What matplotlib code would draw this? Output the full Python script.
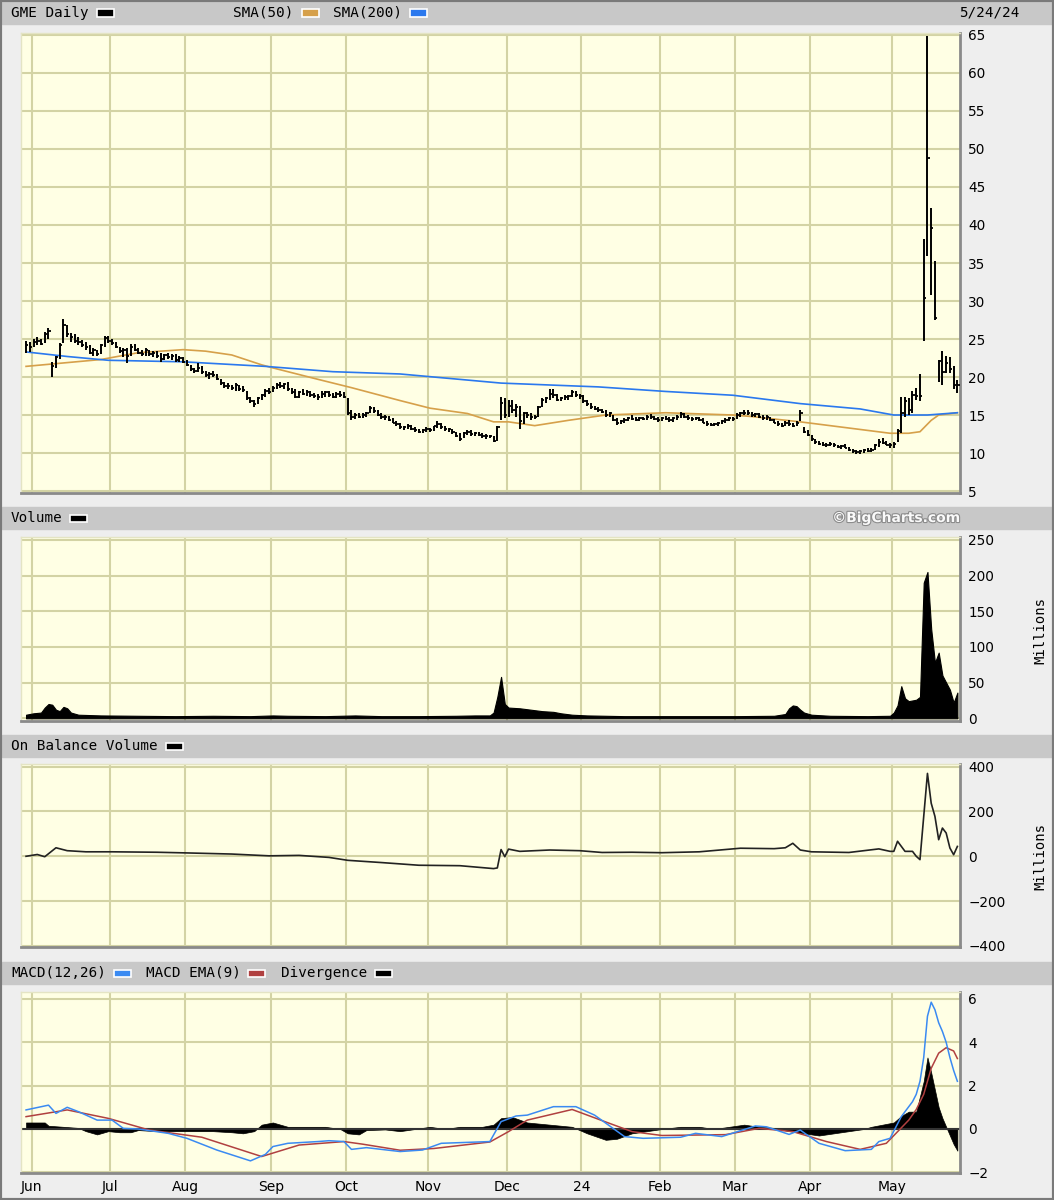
import matplotlib
matplotlib.use('Agg')
import matplotlib.pyplot as plt
import matplotlib.patheffects as pe
import pandas as pd
from matplotlib.patches import Rectangle

W, H = 1054, 1200

# ---------------- trading days on the chart ----------------
holidays = ['2023-06-19', '2023-07-04', '2023-09-04', '2023-11-23', '2023-12-25',
            '2024-01-01', '2024-01-15', '2024-02-19', '2024-03-29']
days = pd.bdate_range('2023-05-30', '2024-05-24', freq='C', holidays=holidays)

# ---------------- GME daily price (high / low / close) ----------------
high = (
    [24.8, 24.6] +
    [25.0, 25.2, 25.0, 25.9, 26.5, 22.0, 22.8, 24.5, 27.6, 26.8, 25.8, 25.6, 25.2, 24.9, 24.6, 24.2, 23.8, 23.6, 24.4, 25.4, 25.4] +
    [25.0, 24.6, 24.0, 23.8, 23.8, 24.4, 24.4, 23.8, 23.6, 23.8, 23.6, 23.4, 23.4, 23.2, 23.0, 23.2, 23.0, 23.0, 22.8, 22.6] +
    [22.2, 21.6, 21.2, 21.8, 21.4, 20.8, 20.6, 20.8, 20.4, 19.8, 19.4, 19.2, 19.0, 19.2, 19.0, 18.8, 18.2, 17.4, 17.0, 17.4, 17.8, 18.4, 18.6] +
    [18.8, 19.2, 19.4, 19.2, 19.3, 18.6, 18.4, 18.2, 18.4, 18.3, 18.2, 17.9, 17.8, 18.1, 18.2, 18.2, 17.9, 18.0, 18.2, 18.0] +
    [17.2, 15.6, 15.2, 15.3, 15.2, 15.4, 16.2, 16.0, 15.6, 15.2, 15.0, 14.9, 14.6, 14.2, 14.0, 13.6, 13.8, 13.7, 13.4, 13.2, 13.2, 13.4] +
    [13.3, 13.6, 14.2, 13.9, 13.5, 13.3, 13.2, 12.8, 12.6, 12.8, 13.0, 13.0, 12.8, 12.8, 12.6, 12.5, 12.4, 12.2, 13.6, 17.4, 17.2] +
    [17.0, 17.0, 16.4, 16.2, 15.4, 15.4, 15.2, 15.0, 16.2, 17.2, 17.4, 18.4, 18.4, 17.8, 17.4, 17.6, 17.6, 18.3, 18.2, 17.8] +
    [17.6, 17.0, 16.6, 16.2, 16.0, 15.8, 15.6, 15.4, 15.0, 14.6, 14.4, 14.6, 14.8, 15.0, 14.8, 14.8, 14.8, 15.0, 15.1, 14.9, 14.7] +
    [14.8, 14.9, 14.8, 14.7, 15.0, 15.4, 15.3, 15.0, 14.8, 14.8, 14.8, 14.6, 14.2, 14.0, 14.0, 14.1, 14.4, 14.6, 14.8, 14.8] +
    [15.2, 15.4, 15.6, 15.6, 15.4, 15.3, 15.2, 15.0, 15.0, 14.8, 14.5, 14.2, 14.0, 14.2, 14.3, 14.0, 14.2, 15.6, 13.4, 13.0] +
    [12.4, 11.8, 11.6, 11.4, 11.3, 11.4, 11.3, 11.1, 11.0, 11.2, 10.8, 10.5, 10.4, 10.4, 10.5, 10.6, 10.6, 11.2, 11.8, 12.0, 11.6, 11.3] +
    [11.4, 13.2, 17.4, 17.4, 17.3, 18.2, 18.6, 20.4, 38.2, 64.8, 42.2, 35.2, 22.2, 23.4, 22.8, 22.6, 21.5, 19.6]
)
low = (
    [23.2, 23.3] +
    [24.0, 24.2, 24.2, 24.5, 25.0, 20.0, 21.2, 22.4, 24.5, 25.2, 24.6, 24.5, 24.2, 24.0, 23.6, 23.0, 22.8, 22.8, 23.0, 24.0, 24.5] +
    [24.2, 23.8, 23.2, 22.6, 21.8, 22.8, 23.4, 23.0, 22.8, 22.8, 22.8, 22.6, 22.5, 22.0, 22.2, 22.4, 22.2, 22.0, 22.0, 21.8] +
    [21.4, 20.8, 20.5, 20.6, 20.4, 20.0, 19.8, 20.0, 19.6, 19.0, 18.6, 18.4, 18.3, 18.2, 18.2, 18.0, 17.0, 16.6, 16.1, 16.4, 17.0, 17.4, 17.8] +
    [18.0, 18.4, 18.6, 18.4, 18.2, 17.8, 17.2, 17.2, 17.6, 17.5, 17.4, 17.2, 17.0, 17.3, 17.4, 17.4, 17.2, 17.2, 17.4, 17.2] +
    [15.0, 14.4, 14.5, 14.6, 14.6, 14.7, 15.2, 15.3, 14.9, 14.5, 14.4, 14.2, 13.9, 13.6, 13.2, 13.0, 13.1, 13.0, 12.8, 12.6, 12.6, 12.8] +
    [12.7, 12.9, 13.3, 13.2, 12.9, 12.8, 12.5, 12.1, 11.6, 12.0, 12.4, 12.3, 12.2, 12.2, 12.0, 11.9, 12.0, 11.5, 11.6, 14.3, 14.6] +
    [14.8, 15.2, 14.8, 13.2, 13.8, 14.6, 14.4, 14.5, 14.8, 16.0, 16.6, 17.0, 17.2, 16.8, 16.8, 17.0, 17.0, 17.4, 17.4, 17.1] +
    [16.6, 16.2, 15.8, 15.6, 15.4, 15.2, 14.8, 14.8, 14.2, 13.7, 13.8, 14.0, 14.2, 14.3, 14.2, 14.2, 14.3, 14.4, 14.5, 14.3, 14.1] +
    [14.2, 14.3, 14.1, 14.1, 14.4, 14.6, 14.6, 14.4, 14.2, 14.3, 14.2, 13.9, 13.6, 13.5, 13.5, 13.6, 13.8, 14.0, 14.2, 14.2] +
    [14.5, 14.8, 15.0, 15.0, 14.8, 14.7, 14.6, 14.4, 14.4, 14.2, 13.9, 13.6, 13.4, 13.5, 13.6, 13.4, 13.5, 14.2, 12.6, 12.2] +
    [11.6, 11.2, 11.0, 10.9, 10.8, 10.9, 10.8, 10.6, 10.5, 10.6, 10.2, 10.0, 9.9, 9.9, 10.0, 10.1, 10.1, 10.4, 10.8, 11.2, 11.0, 10.7] +
    [10.6, 11.4, 12.6, 14.8, 15.0, 15.2, 17.0, 16.8, 24.7, 35.9, 30.8, 27.5, 19.4, 19.0, 20.5, 20.5, 18.4, 17.9]
)
close = (
    [24.2, 24.0] +
    [24.6, 24.8, 24.4, 25.6, 26.1, 21.5, 22.6, 24.2, 26.8, 25.6, 25.2, 24.8, 24.6, 24.2, 23.9, 23.2, 23.6, 23.0, 24.2, 25.1, 24.8] +
    [24.5, 24.0, 23.4, 23.6, 22.8, 24.0, 23.6, 23.2, 23.0, 23.5, 23.0, 23.2, 22.8, 22.4, 22.9, 22.6, 22.8, 22.3, 22.5, 22.0] +
    [21.6, 21.0, 20.8, 21.2, 20.6, 20.3, 20.4, 20.2, 19.8, 19.2, 18.8, 18.8, 18.6, 19.0, 18.4, 18.3, 17.2, 16.8, 16.5, 17.2, 17.6, 18.2, 18.0] +
    [18.6, 19.0, 18.8, 19.1, 18.4, 18.0, 17.4, 18.0, 17.8, 18.0, 17.6, 17.5, 17.4, 17.8, 18.0, 17.6, 17.4, 17.8, 17.6, 17.4] +
    [15.2, 14.8, 15.0, 14.8, 15.0, 15.2, 15.9, 15.5, 15.0, 14.7, 14.8, 14.4, 14.0, 13.8, 13.4, 13.4, 13.6, 13.2, 13.0, 12.8, 13.0, 13.2] +
    [13.0, 13.5, 13.8, 13.4, 13.1, 13.2, 12.7, 12.3, 11.8, 12.6, 12.8, 12.5, 12.6, 12.4, 12.2, 12.3, 12.2, 11.6, 13.4, 16.6, 15.0] +
    [16.2, 15.6, 16.0, 14.2, 15.2, 15.0, 14.8, 14.7, 16.0, 17.0, 17.2, 17.8, 17.6, 17.0, 17.2, 17.4, 17.5, 18.0, 17.6, 17.5] +
    [16.8, 16.4, 16.0, 15.8, 15.6, 15.4, 15.0, 15.2, 14.4, 14.0, 14.2, 14.4, 14.6, 14.5, 14.4, 14.6, 14.5, 14.8, 14.7, 14.5, 14.3] +
    [14.6, 14.5, 14.3, 14.6, 14.8, 15.1, 14.8, 14.6, 14.5, 14.6, 14.4, 14.0, 13.8, 13.7, 13.8, 13.9, 14.2, 14.4, 14.6, 14.5] +
    [15.0, 15.2, 15.3, 15.2, 15.0, 15.1, 14.8, 14.6, 14.8, 14.4, 14.0, 13.8, 13.6, 14.0, 13.8, 13.6, 14.0, 15.2, 12.8, 12.4] +
    [11.8, 11.4, 11.2, 11.1, 11.0, 11.2, 11.0, 10.8, 10.9, 10.7, 10.4, 10.2, 10.1, 10.2, 10.4, 10.3, 10.4, 11.0, 11.5, 11.3, 11.1, 11.0] +
    [11.2, 12.9, 15.2, 16.8, 15.6, 17.6, 17.5, 17.5, 30.4, 48.8, 39.6, 27.7, 22.1, 20.6, 21.9, 21.0, 19.0, 18.9]
)

# ---------------- moving averages (day index, value) ----------------
sma50_day = [0, 20, 30, 42, 48, 55, 63, 66, 78, 87, 100, 108, 118, 125, 129, 136, 145, 155, 171, 189, 194, 207, 223, 231, 236, 239, 242, 244, 249]
sma50_val = [21.4, 22.3, 23.2, 23.6, 23.4, 22.9, 21.6, 21.2, 19.7, 18.6, 16.9, 15.9, 15.2, 14.1, 14.1, 13.6, 14.3, 15.0, 15.3, 15.0, 14.8, 14.1, 13.1, 12.6, 12.6, 12.8, 14.3, 15.0, 15.3]
sma200_day = [0, 11, 22, 42, 64, 82, 100, 127, 153, 171, 189, 207, 223, 232, 241, 249]
sma200_val = [23.3, 22.7, 22.2, 22.0, 21.4, 20.7, 20.4, 19.2, 18.7, 18.1, 17.6, 16.5, 15.8, 15.0, 15.0, 15.3]

# ---------------- volume, millions (day index, value) ----------------
vol_day = [0, 2, 4, 5, 6, 7, 8, 9, 10, 11, 12, 14, 20, 30, 40, 50, 60, 66, 70, 80, 88, 95, 105, 115, 120, 124,
           125, 126, 127, 128, 129, 132, 135, 138, 141, 143, 146, 150, 160, 170, 180, 190, 200, 203, 204, 205,
           206, 207, 208, 210, 215, 225, 231, 232, 233, 234, 235, 236, 237, 238, 239, 240, 241, 242, 243, 244,
           245, 246, 247, 248, 249]
vol_m = [5, 7, 8, 15, 20, 19, 12, 10, 16, 14, 8, 5, 4, 3.5, 3, 3.5, 3, 4, 3.5, 3, 4, 3, 3, 3.5, 4, 4,
         8, 30, 58, 20, 15, 14, 12, 10, 9, 7, 5, 4, 3, 3, 3, 3, 3.5, 6, 14, 18,
         17, 12, 8, 5, 3.5, 3, 3.5, 8, 18, 45, 28, 24, 25, 26, 30, 190, 205, 125, 78, 92,
         60, 50, 40, 22, 36]

# ---------------- on balance volume, millions ----------------
obv_day = [0, 3, 5, 8, 11, 16, 23, 35, 43, 55, 65, 73, 81, 86, 95, 105, 116, 125, 126, 127, 128, 129, 132, 140,
           148, 154, 162, 170, 180, 191, 200, 203, 205, 207, 210, 220, 228, 231, 232, 233, 235, 237, 238, 239,
           240, 241, 242, 243, 244, 245, 246, 247, 248, 249]
obv_m = [0, 8, -2, 38, 25, 20, 20, 18, 15, 10, 2, 4, -5, -18, -28, -40, -42, -55, -52, 30, -2, 32, 22, 28,
         25, 17, 18, 16, 20, 36, 34, 38, 58, 28, 20, 17, 33, 22, 22, 67, 22, 22, 0, -15,
         178, 370, 237, 178, 74, 126, 104, 37, 7, 44]

# ---------------- MACD ----------------
macd_day = [0, 6, 8, 11, 14, 19, 23, 26, 30, 38, 43, 51, 60, 64, 66, 70, 78, 81, 85, 87, 91, 100, 106, 111, 124,
            127, 131, 134, 141, 147, 152, 160, 165, 175, 179, 186, 195, 198, 204, 207, 212, 219, 226, 228, 231,
            234, 237, 238, 239, 240, 241, 242, 243, 244, 245, 246, 247, 248, 249]
macd_val = [0.88, 1.1, 0.72, 1.0, 0.8, 0.41, 0.41, 0.03, 0.0, -0.2, -0.43, -0.97, -1.47, -1.17, -0.81, -0.66, -0.58,
            -0.54, -0.58, -0.94, -0.86, -1.04, -0.97, -0.66, -0.58, 0.34, 0.6, 0.64, 1.03, 1.03, 0.64, -0.35, -0.43,
            -0.38, -0.2, -0.35, 0.14, 0.1, -0.25, -0.05, -0.66, -1.0, -0.94, -0.58, -0.43, 0.57, 1.26, 1.6, 2.2,
            3.3, 5.2, 5.85, 5.5, 4.9, 4.5, 4.0, 3.3, 2.7, 2.2]
ema_day = [0, 11, 22, 33, 47, 63, 73, 85, 90, 100, 109, 124, 129, 134, 146, 156, 162, 170, 187, 196, 205, 214,
           223, 230, 236, 238, 240, 242, 244, 246, 248, 249]
ema_val = [0.57, 0.88, 0.49, -0.05, -0.38, -1.27, -0.74, -0.58, -0.7, -0.98, -0.9, -0.6, -0.12, 0.41, 0.9, 0.26,
           -0.12, -0.3, -0.26, 0.03, -0.12, -0.58, -0.94, -0.66, 0.41, 0.9, 1.6, 2.8, 3.5, 3.75, 3.6, 3.25]
div_day = [0, 5, 6, 10, 14, 16, 19, 22, 25, 28, 30, 35, 45, 50, 55, 58, 61, 63, 66, 68, 70, 75, 80, 84, 86, 89,
           91, 96, 100, 104, 108, 112, 116, 122, 125, 127, 130, 134, 140, 146, 150, 155, 158, 162, 166, 170, 175,
           180, 184, 188, 192, 196, 200, 204, 208, 212, 216, 220, 224, 226, 229, 232, 234, 236, 238, 239, 240,
           241, 242, 243, 244, 245, 246, 247, 248, 249]
div_val = [0.3, 0.3, 0.15, 0.1, 0.05, -0.1, -0.25, -0.1, -0.15, -0.15, -0.05, -0.1, -0.1, -0.1, -0.15, -0.2, -0.1,
           0.2, 0.3, 0.2, 0.1, 0.1, 0.1, 0.0, -0.2, -0.25, -0.05, -0.02, -0.1, 0.0, 0.1, 0.0, 0.1, 0.1, 0.2, 0.5,
           0.55, 0.3, 0.2, 0.1, -0.2, -0.5, -0.45, -0.2, -0.1, 0.0, 0.1, 0.1, 0.0, 0.1, 0.2, 0.1, 0.05, -0.1, -0.2,
           -0.3, -0.2, -0.1, 0.0, 0.1, 0.2, 0.3, 0.6, 0.8, 0.8, 1.5, 2.2, 3.3, 2.6, 1.8, 1.0, 0.5, 0.1, -0.3, -0.7,
           -1.0]

month_names = ['Jun', 'Jul', 'Aug', 'Sep', 'Oct', 'Nov', 'Dec', '24', 'Feb', 'Mar', 'Apr', 'May']

# ---------------- styling ----------------
BG = '#EEEEEE'
BAR = '#C8C8C8'
FACE = '#FFFFE4'
GRID = '#D3D3A4'
ORANGE = '#D6A04A'
BLUE = '#2A78EE'
MBLUE = '#3A8AF2'
RED = '#B04040'
MONO = 'DejaVu Sans Mono'

fig = plt.figure(figsize=(W / 100, H / 100), dpi=100, facecolor=BG)

n = len(days)
idx = list(range(n))
month_pos = []
for k in range(1, n):
    if days[k].month != days[k - 1].month:
        month_pos.append(k - 0.5)


def panel(x0, y0, x1, y1):
    ax = fig.add_axes([x0 / W, 1 - y1 / H, (x1 - x0) / W, (y1 - y0) / H])
    ax.set_facecolor(FACE)
    ax.set_xlim(-1.35, n - 0.3)
    ax.set_xticks(month_pos)
    ax.set_xticklabels([])
    ax.yaxis.tick_right()
    ax.tick_params(length=0, labelsize=9.8, pad=6)
    ax.grid(True, color=GRID, lw=1.5)
    ax.set_axisbelow(True)
    for s in ['left', 'top']:
        ax.spines[s].set_color('#E4E4C4')
        ax.spines[s].set_linewidth(1)
    for s in ['right', 'bottom']:
        ax.spines[s].set_color('#8A8A8A')
        ax.spines[s].set_linewidth(2)
    return ax


def header(y0, y1):
    fig.add_artist(Rectangle((2 / W, 1 - y1 / H), 1050 / W, (y1 - y0) / H,
                             transform=fig.transFigure, color=BAR, zorder=0))


def label(x, y, s, **kw):
    fig.text(x / W, 1 - y / H, s, fontsize=10.3, family=MONO, va='center', **kw)


def swatch(x, y, c):
    fig.add_artist(Rectangle((x / W, 1 - (y + 3.5) / H), 17 / W, 7 / H, transform=fig.transFigure,
                             facecolor=c, edgecolor='white', lw=1.2, zorder=3))


# ---------------- price ----------------
ax1 = panel(21, 33, 960, 493)
ax1.set_ylim(4.74, 65.26)
ax1.set_yticks(range(5, 70, 5))
ax1.plot(sma50_day, sma50_val, color=ORANGE, lw=1.2, zorder=2)
ax1.plot(sma200_day, sma200_val, color=BLUE, lw=1.2, zorder=2)
ax1.vlines(idx, low, high, color='black', lw=1.4, zorder=3)
ax1.hlines(close, [i for i in idx], [i + 0.6 for i in idx], color='black', lw=1.3, zorder=3)

# ---------------- volume ----------------
ax2 = panel(21, 537, 960, 721)
ax2.set_ylim(-3.8, 254)
ax2.set_yticks(range(0, 300, 50))
ax2.fill_between(vol_day, 0, vol_m, color='black', lw=0.8, zorder=3)
fig.text(1040 / W, 1 - 630 / H, 'Millions', rotation=90, fontsize=10, family=MONO, va='center', ha='center')

# ---------------- on balance volume ----------------
ax3 = panel(21, 764, 960, 947)
ax3.set_ylim(-405, 412)
ax3.set_yticks(range(-400, 600, 200))
ax3.plot(obv_day, obv_m, color='#222222', lw=1.2, zorder=3)
fig.text(1040 / W, 1 - 857 / H, 'Millions', rotation=90, fontsize=10, family=MONO, va='center', ha='center')

# ---------------- MACD ----------------
ax4 = panel(21, 992, 960, 1173)
ax4.set_ylim(-2.03, 6.32)
ax4.set_yticks(range(-2, 8, 2))
ax4.fill_between(div_day, 0, div_val, color='black', lw=0.5, zorder=2)
ax4.axhline(0, color='#333333', lw=1.5, zorder=2)
ax4.plot(ema_day, ema_val, color=RED, lw=1.1, zorder=3)
ax4.plot(macd_day, macd_val, color=MBLUE, lw=1.1, zorder=4)
ax4.set_xticklabels(month_names, fontsize=10)
ax4.tick_params(axis='x', pad=5)

# ---------------- header bars ----------------
header(2, 24)
label(11, 13, 'GME Daily')
swatch(97, 13, 'black')
label(233, 13, 'SMA(50)')
swatch(302, 13, ORANGE)
label(333, 13, 'SMA(200)')
swatch(410, 13, BLUE)
label(1019, 13, '5/24/24', ha='right')

header(507, 529)
label(11, 518, 'Volume')
swatch(70, 518, 'black')
fig.text(960 / W, 1 - 518 / H, '\u00a9BigCharts.com', fontsize=10, fontweight='bold',
         color='#FAFAFA', ha='right', va='center',
         path_effects=[pe.withStroke(linewidth=1.6, foreground='#8C8C8C')])

header(735, 757)
label(11, 746, 'On Balance Volume')
swatch(166, 746, 'black')

header(962, 984)
label(11, 973, 'MACD(12,26)')
swatch(114, 973, MBLUE)
label(146, 973, 'MACD EMA(9)')
swatch(248, 973, RED)
label(281, 973, 'Divergence')
swatch(375, 973, 'black')

fig.add_artist(Rectangle((0, 0), 1, 1, transform=fig.transFigure, fill=False,
                         edgecolor='#7A7A7A', lw=3, zorder=10))

fig.savefig('out.png', dpi=100, facecolor=BG)
